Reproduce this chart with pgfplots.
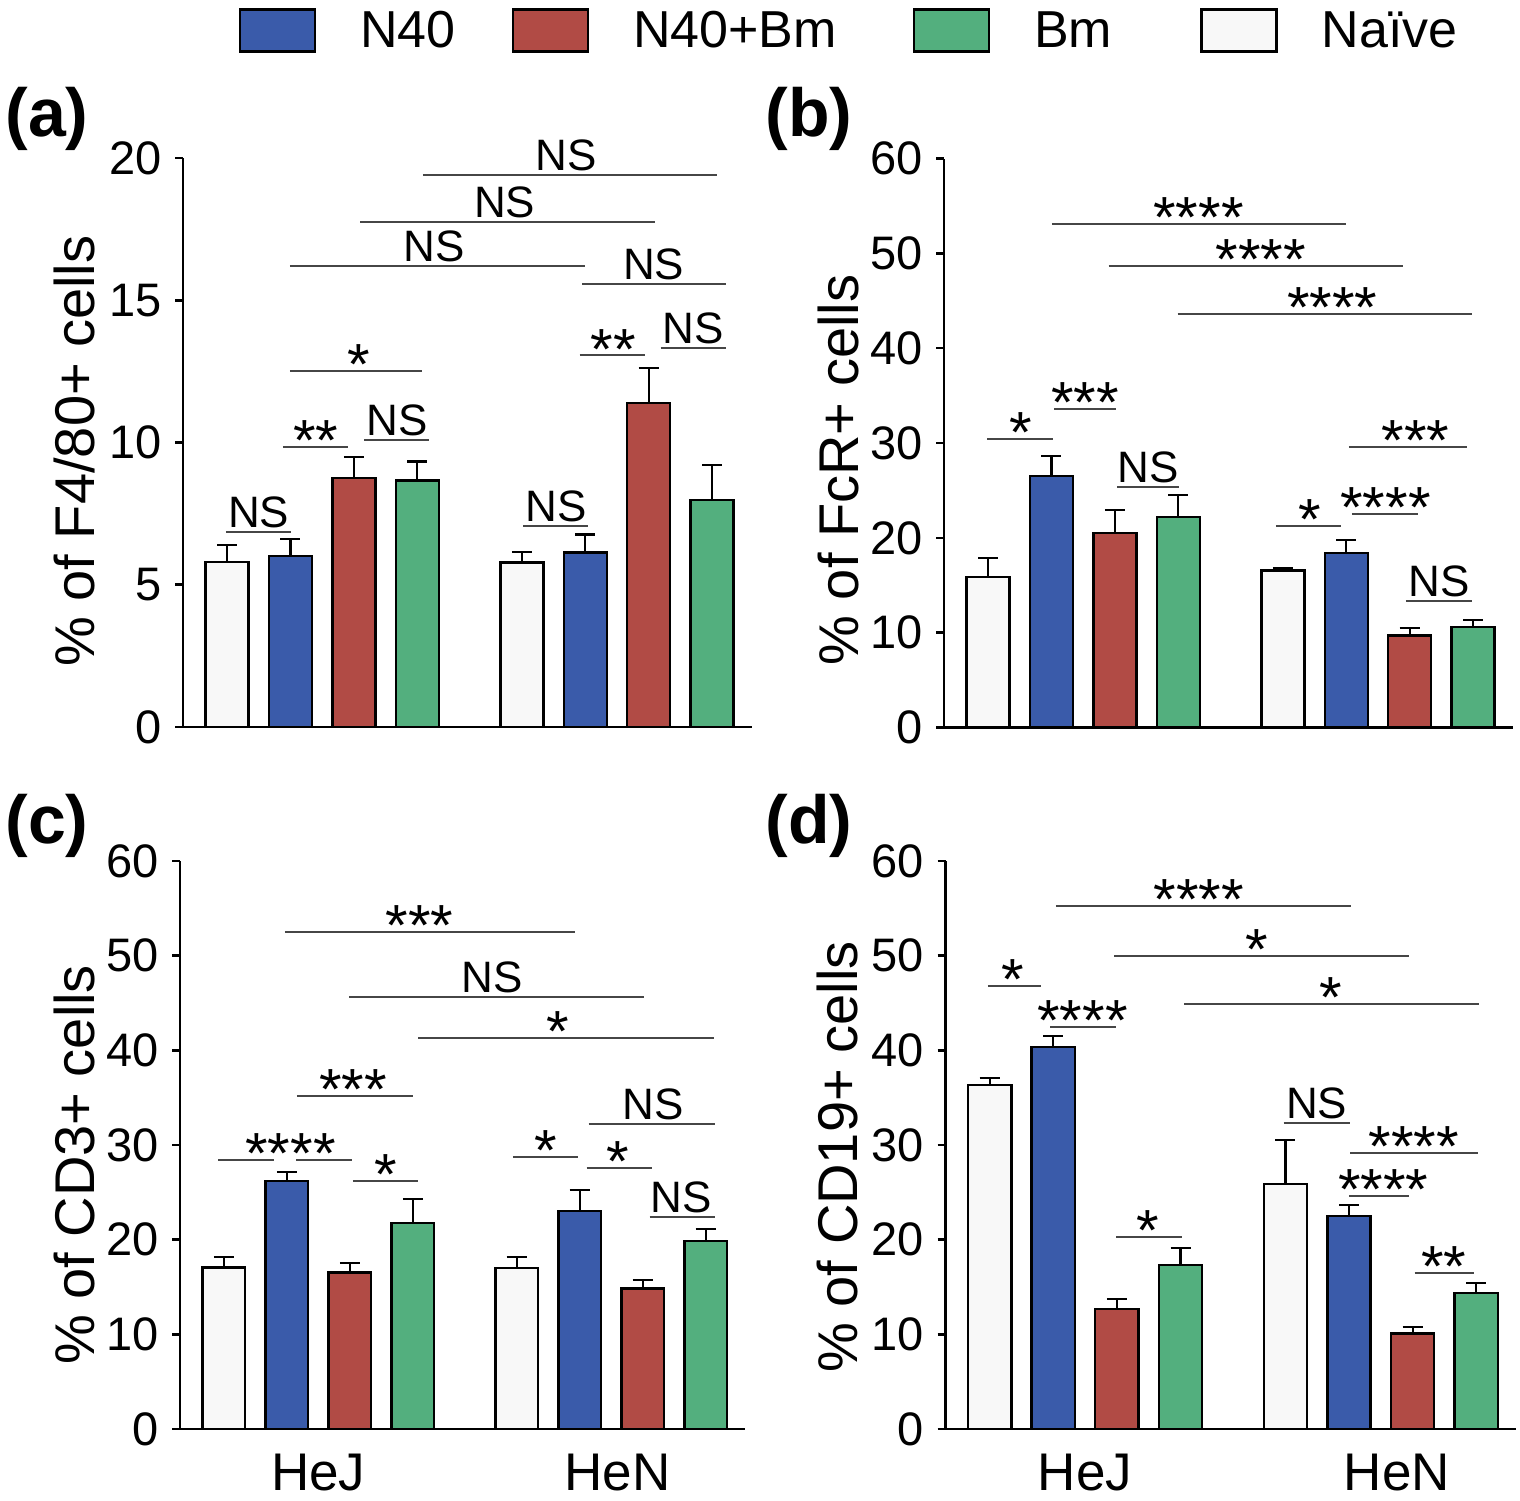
\documentclass[border=0pt]{standalone}
\usepackage{pgfplots}
\pgfplotsset{compat=1.18}
\usepackage{fontspec}
\setmainfont{Liberation Sans}
\definecolor{cN}{RGB}{58,91,170}
\definecolor{cNB}{RGB}{177,75,69}
\definecolor{cB}{RGB}{83,175,126}
\definecolor{cNa}{RGB}{248,248,248}
\definecolor{sigc}{RGB}{70,70,70}
\newcommand{\sigl}[3]{\draw[sigc, line width=1pt] (axis cs:#1,#3) -- (axis cs:#2,#3);}
\newcommand{\ns}[2]{\node[anchor=base, inner sep=0pt, yshift=2.2pt, font=\fontsize{22}{25}\selectfont] at (axis cs:#1,#2) {NS};}
\newcommand{\st}[3]{\node[anchor=base, inner sep=0pt, yshift=-6.8pt, text height=18pt, font=\fontsize{29}{32}\selectfont] at (axis cs:#1,#2) {#3};}
\pgfplotsset{
  panel/.style={
    scale only axis, ymin=0, xmin=0.305, xmax=9.28,
    axis x line=bottom, axis y line=left,
    axis line style={-, line width=1.3pt, black},
    tick align=outside, major tick length=4pt,
    ytick style={line width=1.3pt, black},
    xtick style={draw=none},
    xtick=\empty,
    /pgf/number format/assume math mode=true,
    yticklabel style={font=\fontsize{23.5}{27}\selectfont, inner sep=2pt, xshift=-4.5pt},
    xticklabel style={font=\fontsize{26.5}{30}\selectfont, yshift=-5pt},
    ylabel style={font=\fontsize{28}{32}\selectfont, anchor=base},
    ybar, clip=false,
    error bars/y dir=plus, error bars/y explicit,
    error bars/error bar style={line width=1.1pt, black},
    error bars/error mark options={rotate=90, line width=1.1pt, black, mark size=5pt},
  },
  bb/.style={fill=#1, draw=black, line width=1.2pt, bar shift=0pt, bar width=0.68},
}
\begin{document}
\begin{tikzpicture}
\path[use as bounding box] (0pt,0pt) rectangle (760pt,-750pt);
% ---------- (a)
\begin{axis}[panel, at={(91.5pt,-363.5pt)}, anchor=south west,
  width=284.5pt, height=284.5pt, ymax=20, ytick={0,5,10,15,20},
  ylabel={\% of F4/80+ cells},
  ylabel style={at={(axis description cs:-0.1547,0.485)}},
  legend columns=-1,
  legend style={at={(axis description cs:0.0975,1.2636)}, anchor=north west,
    draw=none, fill=none, inner sep=0pt, font=\fontsize{26}{29}\selectfont,
    nodes={inner sep=0pt},
    /tikz/every odd column/.append style={column sep=22pt},
    /tikz/every even column/.append style={column sep=33pt}},
  legend image code/.code={\draw[#1, line width=1.2pt] (0pt,-10.5pt) rectangle (37.5pt,10.5pt);},
]
\addplot[bb=cN] coordinates {(2,6.02) +- (0,0.58) (6.65,6.13) +- (0,0.64)};
\addplot[bb=cNB] coordinates {(3,8.75) +- (0,0.74) (7.65,11.38) +- (0,1.25)};
\addplot[bb=cB] coordinates {(4,8.67) +- (0,0.66) (8.65,7.97) +- (0,1.23)};
\addplot[bb=cNa] coordinates {(1,5.79) +- (0,0.61) (5.65,5.78) +- (0,0.36)};
\legend{N40\hspace*{-5pt},N40+Bm\hspace*{5pt},Bm\hspace*{11pt},Naïve}
\sigl{4.09}{8.73}{19.41} \ns{6.35}{19.41}
\sigl{3.10}{7.75}{17.76} \ns{5.38}{17.76}
\sigl{1.99}{6.64}{16.20} \ns{4.27}{16.20}
\sigl{6.60}{8.87}{15.56} \ns{7.73}{15.56}
\sigl{6.56}{7.60}{13.06} \st{7.09}{13.06}{**}
\sigl{7.84}{8.87}{13.33} \ns{8.35}{13.33}
\sigl{1.99}{4.08}{12.52} \st{3.07}{12.52}{*}
\sigl{1.88}{2.90}{9.85} \st{2.40}{9.85}{**}
\sigl{3.16}{4.19}{10.09} \ns{3.68}{10.09}
\sigl{0.98}{2.01}{6.87} \ns{1.50}{6.87}
\sigl{5.67}{6.70}{7.07} \ns{6.19}{7.07}
\end{axis}
% ---------- (b)
\begin{axis}[panel, at={(472pt,-363.75pt)}, anchor=south west,
  width=284.5pt, height=284.5pt, ymax=60, ytick={0,10,...,60},
  ylabel={\% of FcR+ cells},
  ylabel style={at={(axis description cs:-0.151,0.4525)}},
]
\addplot[bb=cN] coordinates {(2,26.52) +- (0,2.11) (6.65,18.43) +- (0,1.34)};
\addplot[bb=cNB] coordinates {(3,20.54) +- (0,2.40) (7.65,9.72) +- (0,0.74)};
\addplot[bb=cB] coordinates {(4,22.23) +- (0,2.29) (8.65,10.63) +- (0,0.71)};
\addplot[bb=cNa] coordinates {(1,15.90) +- (0,1.94) (5.65,16.54) +- (0,0.26)};
\sigl{2.006}{6.65}{53.1} \st{4.32}{53.1}{****}
\sigl{2.90}{7.54}{48.67} \st{5.30}{48.67}{****}
\sigl{3.99}{8.64}{43.6} \st{6.43}{43.6}{****}
\sigl{0.99}{2.02}{30.39} \st{1.52}{30.39}{*}
\sigl{2.04}{3.02}{33.62} \st{2.53}{33.62}{***}
\sigl{3.04}{4.01}{25.39} \ns{3.52}{25.39}
\sigl{6.69}{8.56}{29.61} \st{7.74}{29.61}{***}
\sigl{5.54}{6.57}{21.28} \st{6.07}{21.28}{*}
\sigl{6.74}{7.78}{22.48} \st{7.27}{22.48}{****}
\sigl{7.59}{8.63}{13.31} \ns{8.11}{13.31}
\end{axis}
% ---------- (c)
\begin{axis}[panel, at={(90pt,-714.5pt)}, anchor=south west,
  width=282.7pt, height=284pt, ymax=60, ytick={0,10,...,60},
  xtick={2.5,7.25}, xticklabels={HeJ,HeN},
  ylabel={\% of CD3+ cells},
  ylabel style={at={(axis description cs:-0.152,0.465)}},
]
\addplot[bb=cN] coordinates {(2,26.23) +- (0,0.95) (6.65,23.06) +- (0,2.19)};
\addplot[bb=cNB] coordinates {(3,16.55) +- (0,0.95) (7.65,14.86) +- (0,0.88)};
\addplot[bb=cB] coordinates {(4,21.76) +- (0,2.50) (8.65,19.89) +- (0,1.24)};
\addplot[bb=cNa] coordinates {(1,17.08) +- (0,1.06) (5.65,17.04) +- (0,1.10)};
\sigl{1.97}{6.58}{52.5} \st{4.11}{52.5}{***}
\sigl{2.99}{7.67}{45.63} \ns{5.26}{45.63}
\sigl{4.09}{8.78}{41.3} \st{6.30}{41.3}{*}
\sigl{2.16}{4.01}{35.14} \st{3.05}{35.14}{***}
\sigl{6.79}{8.80}{32.18} \ns{7.82}{32.18}
\sigl{0.91}{1.80}{28.38} \sigl{2.15}{3.03}{28.38} \st{2.06}{28.38}{****}
\sigl{3.05}{4.09}{26.2} \st{3.57}{26.2}{*}
\sigl{5.59}{6.63}{28.77} \st{6.11}{28.77}{*}
\sigl{6.76}{7.79}{27.6} \st{7.25}{27.6}{*}
\sigl{7.76}{8.80}{22.36} \ns{8.26}{22.36}
\end{axis}
% ---------- (d)
\begin{axis}[panel, at={(472.75pt,-714.5pt)}, anchor=south west,
  width=285.4pt, height=284pt, ymax=60, ytick={0,10,...,60},
  xtick={2.5,7.4}, xticklabels={HeJ,HeN},
  ylabel={\% of CD19+ cells},
  ylabel style={at={(axis description cs:-0.154,0.479)}},
]
\addplot[bb=cN] coordinates {(2,40.38) +- (0,1.13) (6.65,22.53) +- (0,1.13)};
\addplot[bb=cNB] coordinates {(3,12.68) +- (0,1.05) (7.65,10.07) +- (0,0.74)};
\addplot[bb=cB] coordinates {(4,17.32) +- (0,1.83) (8.65,14.40) +- (0,1.02)};
\addplot[bb=cNa] coordinates {(1,36.34) +- (0,0.70) (5.65,25.91) +- (0,4.62)};
\sigl{2.04}{6.68}{55.28} \st{4.29}{55.28}{****}
\sigl{2.96}{7.60}{49.96} \st{5.20}{49.96}{*}
\sigl{4.06}{8.69}{44.89} \st{6.37}{44.89}{*}
\sigl{0.97}{1.81}{46.83} \st{1.37}{46.83}{*}
\sigl{1.95}{2.99}{42.43} \st{2.46}{42.43}{****}
\sigl{5.62}{6.67}{32.29} \ns{6.14}{32.29}
\sigl{6.67}{8.67}{29.19} \st{7.67}{29.19}{****}
\sigl{6.65}{7.60}{24.61} \st{7.19}{24.61}{****}
\sigl{2.99}{4.02}{20.25} \st{3.49}{20.25}{*}
\sigl{7.68}{8.61}{16.45} \st{8.14}{16.45}{**}
\end{axis}
% panel letters
\node[anchor=base west, inner sep=0pt, font=\bfseries\fontsize{34}{40}\selectfont] at (2.5pt,-68pt) {(a)};
\node[anchor=base west, inner sep=0pt, font=\bfseries\fontsize{34}{40}\selectfont] at (382.5pt,-68pt) {(b)};
\node[anchor=base west, inner sep=0pt, font=\bfseries\fontsize{34}{40}\selectfont] at (2.5pt,-421.5pt) {(c)};
\node[anchor=base west, inner sep=0pt, font=\bfseries\fontsize{34}{40}\selectfont] at (382.5pt,-421.5pt) {(d)};
\end{tikzpicture}
\end{document}
